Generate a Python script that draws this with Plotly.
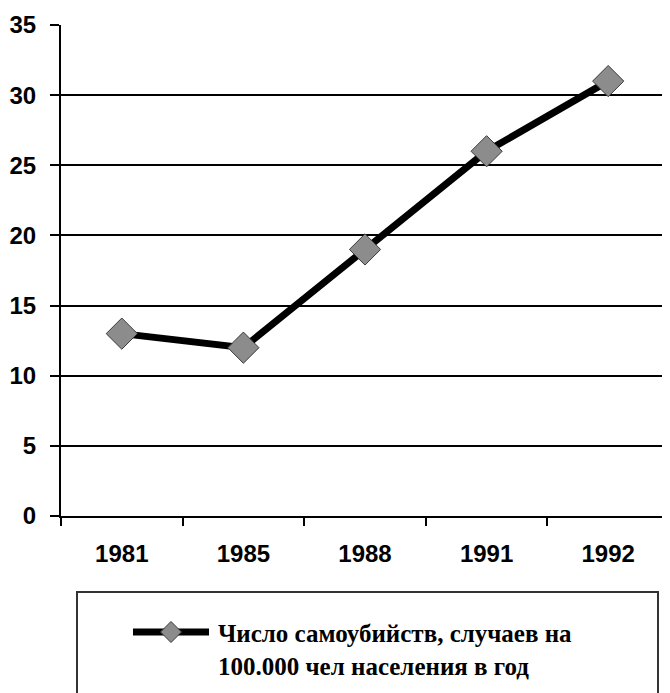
import plotly.graph_objects as go

years = ['1981', '1985', '1988', '1991', '1992']
rate = [13, 12, 19, 26, 31]
legend_text = 'Число самоубийств, случаев на<br>100.000 чел населения в год'

# page body has an 8px margin, so work in window pixels and shift
OFF = 8
W, H = 670 - OFF, 693 - OFF
L, R, T, B = 61 - OFF, 1, 25 - OFF, 693 - 516
pw, ph = W - L - R, H - T - B


def px(x):
    return (x - OFF - L) / pw


def py(y):
    return (H - B - (y - OFF)) / ph


fig = go.Figure()
fig.add_trace(go.Scatter(
    x=years, y=rate, mode='lines+markers',
    line=dict(color='black', width=7),
    marker=dict(symbol='diamond', size=24, color='#8c8c8c',
                line=dict(color='#3a3a3a', width=1)),
    showlegend=False, cliponaxis=False,
))

# legend box drawn by hand
fig.add_shape(type='rect', xref='paper', yref='paper',
              x0=px(77), x1=px(658), y0=py(592), y1=py(720),
              line=dict(color='#333333', width=2), fillcolor='white')
fig.add_shape(type='line', xref='paper', yref='paper',
              x0=px(133), x1=px(209), y0=py(632), y1=py(632),
              line=dict(color='black', width=7))
cx, cy, r = 171, 632, 10.5
fig.add_shape(type='path', xref='paper', yref='paper',
              path=f'M {px(cx - r)} {py(cy)} L {px(cx)} {py(cy - r)} '
                   f'L {px(cx + r)} {py(cy)} L {px(cx)} {py(cy + r)} Z',
              fillcolor='#8c8c8c', line=dict(color='#3a3a3a', width=1))
fig.add_annotation(text=legend_text, xref='paper', yref='paper',
                   x=px(216), y=py(650), xanchor='left', yanchor='middle',
                   align='left', showarrow=False,
                   font=dict(family='Liberation Serif', size=25, color='black', weight='bold'))

fig.update_layout(
    width=W, height=H,
    margin=dict(l=L, r=R, t=T, b=B),
    plot_bgcolor='white', paper_bgcolor='white',
    font=dict(family='Arial, Liberation Sans', size=24, color='black', weight='bold'),
)
fig.update_xaxes(
    type='category', range=[-0.5, len(years) - 0.5],
    tickson='boundaries', ticks='outside', ticklen=8,
    tickcolor='black', tickwidth=2, showline=True, linecolor='black', linewidth=2,
    showgrid=False, ticklabelstandoff=15,
)
fig.update_yaxes(
    range=[0, 35], dtick=5, ticks='outside', ticklen=9, tickcolor='black',
    tickwidth=2, showline=True, linecolor='black', linewidth=2,
    showgrid=True, gridcolor='black', gridwidth=1.5, zeroline=False,
    ticklabelstandoff=9,
)

fig.write_html('out.html')
